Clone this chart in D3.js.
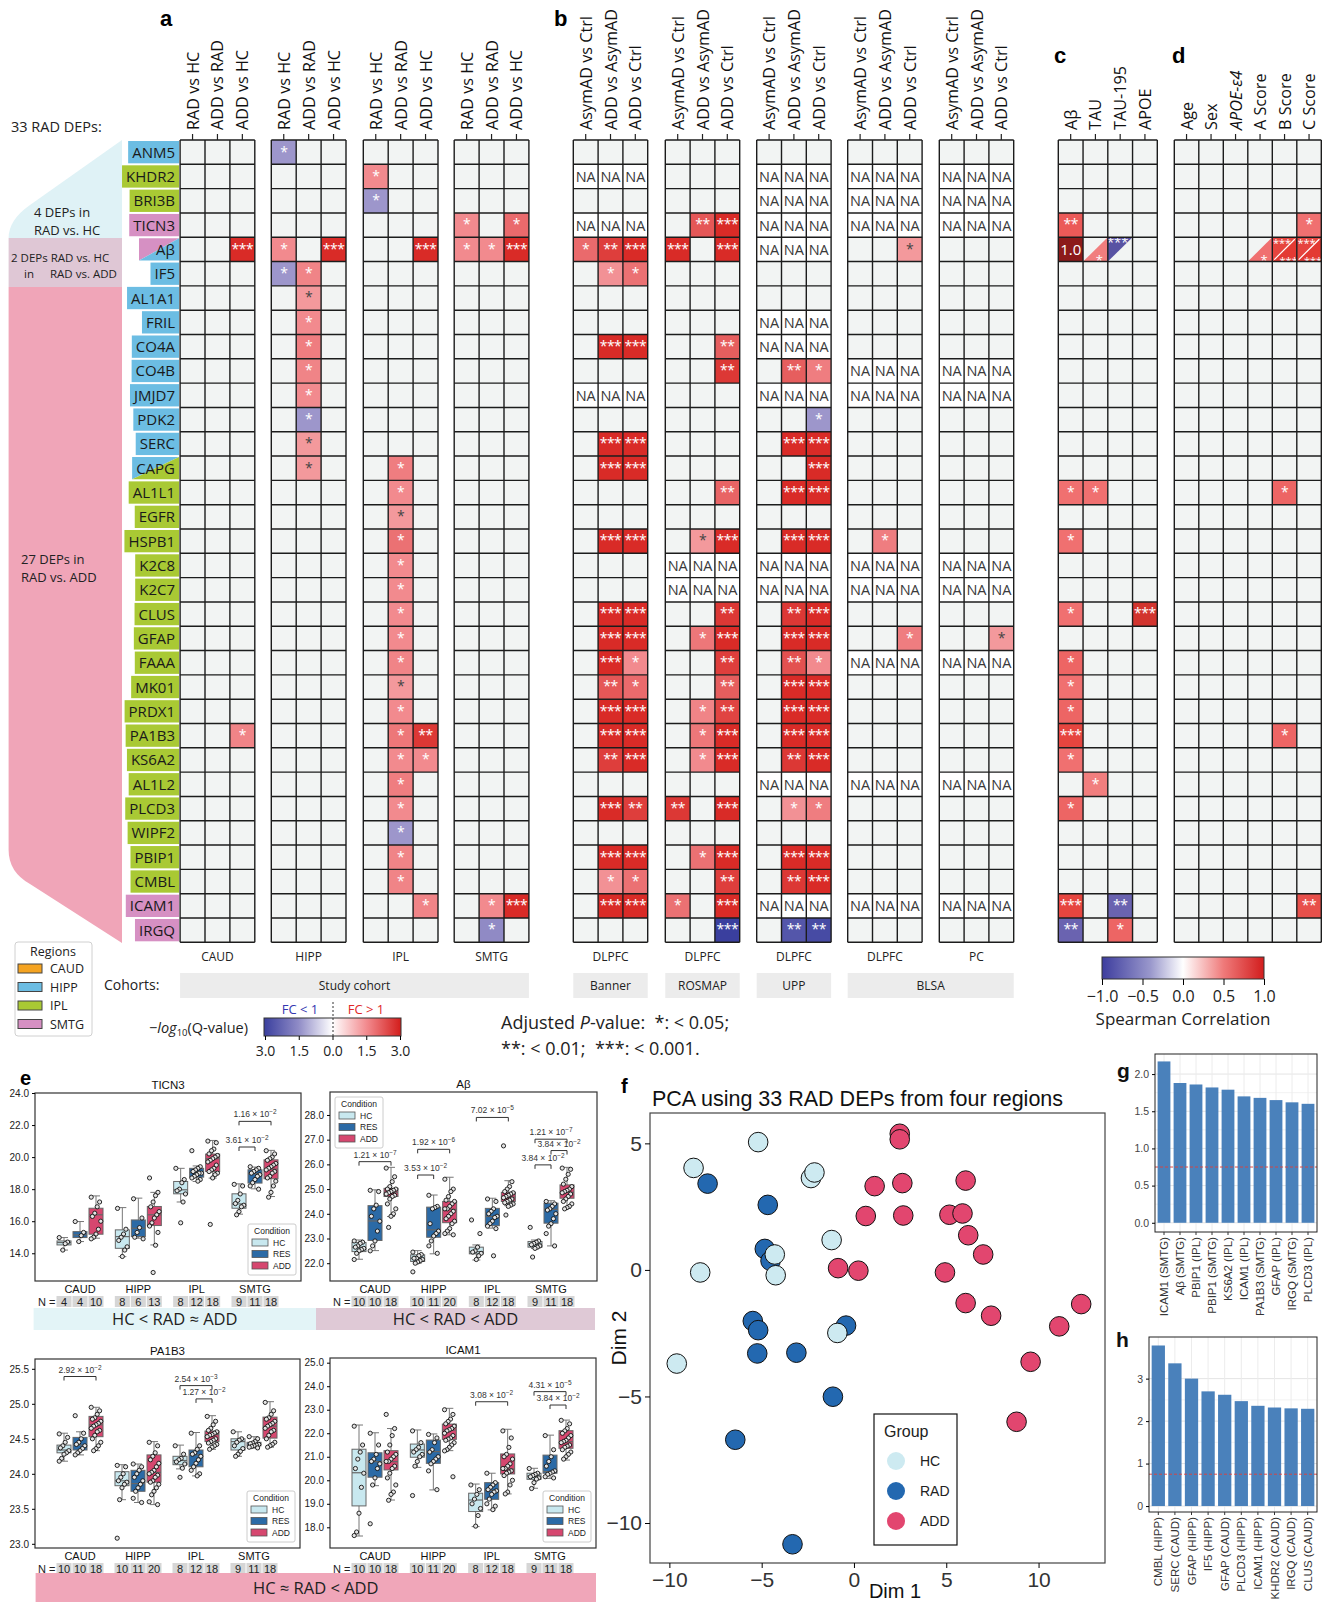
<!DOCTYPE html>
<html><head><meta charset="utf-8">
<script src="https://cdn.jsdelivr.net/npm/d3@7"></script>
<style>
body{margin:0;background:#fff;}
svg{display:block;font-family:"Open Sans",sans-serif;}
.pre{white-space:pre;}
</style></head>
<body><svg id="fig" width="1324" height="1602"></svg>
<script>
// ---- heatmap rows ----
const genes = ["ANM5","KHDR2","BRI3B","TICN3","Aβ","IF5","AL1A1","FRIL","CO4A","CO4B","JMJD7","PDK2","SERC","CAPG",
  "AL1L1","EGFR","HSPB1","K2C8","K2C7","CLUS","GFAP","FAAA","MK01","PRDX1","PA1B3","KS6A2","AL1L2","PLCD3","WIPF2","PBIP1","CMBL","ICAM1","IRGQ"];
const geneRegion = ["HIPP","IPL","IPL","SMTG","SMTG/HIPP",
  "HIPP","HIPP","HIPP","HIPP","HIPP","HIPP","HIPP","HIPP","HIPP/IPL",
  "IPL","IPL","IPL","IPL","IPL","IPL","IPL","IPL","IPL","IPL","IPL","IPL","IPL","IPL","IPL","IPL","IPL",
  "SMTG","SMTG"];

// ---- heatmap columns ----
const studyRegions = ["CAUD","HIPP","IPL","SMTG"];
const studyCols = ["RAD vs HC","ADD vs RAD","ADD vs HC"];
const extRegions = ["DLPFC","DLPFC","DLPFC","DLPFC","PC"];
const extCols = ["AsymAD vs Ctrl","ADD vs AsymAD","ADD vs Ctrl"];
const corrCols = ["Aβ","TAU","TAU-195","APOE"];
const clinCols = ["Age","Sex","APOE-ε4","A Score","B Score","C Score"];
const cohortNames = ["Study cohort","Banner","ROSMAP","UPP","BLSA"];
const cohortSpan = [[0,3],[4,4],[5,5],[6,6],[7,8]];

// signed -log10(Q) + stars ("." none, NA missing)
const caudCells = {"Aβ":". . 3***", PA1B3:". . 1.6*"};
const hippCells = {ANM5:"-1.5* . .", "Aβ":"1.5* . 3***", IF5:"-1.5* 1.6* .", AL1A1:". 1.3* .", FRIL:". 1.5* .", CO4A:". 1.7* .",
  CO4B:". 1.6* .", JMJD7:". 1.5* .", PDK2:". -1.5* .", SERC:". 1.3* .", CAPG:". 1.3* ."};
const iplCells = {KHDR2:"1.5* . .", BRI3B:"-1.5* . .", "Aβ":". . 3***", CAPG:". 1.7* .", AL1L1:". 1.5* .", EGFR:". 1.3* .",
  HSPB1:". 1.9* .", K2C8:". 1.5* .", K2C7:". 1.5* .", CLUS:". 1.5* .", GFAP:". 1.5* .", FAAA:". 1.6* .", MK01:". 1.3* .",
  PRDX1:". 1.5* .", PA1B3:". 1.8* 2.8**", KS6A2:". 1.5* 1.5*", AL1L2:". 1.7* .", PLCD3:". 1.5* .", WIPF2:". -1.5* .",
  PBIP1:". 1.6* .", CMBL:". 1.6* .", ICAM1:". . 1.6*"};
const smtgCells = {TICN3:"1.5* . 2.0*", "Aβ":"1.5* 1.5* 3***", ICAM1:". 1.5* 3***", IRGQ:". -1.7* ."};
const bannerCells = {KHDR2:"NA NA NA", TICN3:"NA NA NA", "Aβ":"2.0* 2.7** 3***", IF5:". 1.4* 1.9*", CO4A:". 3*** 3***",
  JMJD7:"NA NA NA", SERC:". 3*** 3***", CAPG:". 3*** 3***", HSPB1:". 3*** 3***", CLUS:". 3*** 3***", GFAP:". 3*** 3***",
  FAAA:". 3*** 1.5*", MK01:". 2.3** 2.0*", PRDX1:". 3*** 3***", PA1B3:". 3*** 3***", KS6A2:". 2.7** 3***",
  PLCD3:". 3*** 2.7**", PBIP1:". 3*** 3***", CMBL:". 1.4* 1.9*", ICAM1:". 3*** 3***"};
const rosmapCells = {TICN3:". 2.3** 3***", "Aβ":"3*** . 3***", CO4A:". . 2.2**", CO4B:". . 2.8**", AL1L1:". . 2.1**",
  HSPB1:". 1.3* 3***", K2C8:"NA NA NA", K2C7:"NA NA NA", CLUS:". . 2.8**", GFAP:". 1.8* 3***", FAAA:". . 2.7**",
  MK01:". . 2.2**", PRDX1:". 1.6* 2.6**", PA1B3:". 1.8* 3***", KS6A2:". 1.5* 3***", PLCD3:"2.8** . 3***",
  PBIP1:". 1.9* 3***", CMBL:". . 2.7**", ICAM1:"1.9* . 3***", IRGQ:". . -3***"};
const uppCells = {KHDR2:"NA NA NA", BRI3B:"NA NA NA", TICN3:"NA NA NA", "Aβ":"NA NA NA", FRIL:"NA NA NA", CO4A:"NA NA NA",
  CO4B:". 2.2** 1.7*", JMJD7:"NA NA NA", PDK2:". . -1.5*", SERC:". 3*** 3***", CAPG:". . 3***", AL1L1:". 3*** 3***",
  HSPB1:". 3*** 3***", K2C8:"NA NA NA", K2C7:"NA NA NA", CLUS:". 2.8** 3***", GFAP:". 3*** 3***", FAAA:". 2.4** 1.5*",
  MK01:". 3*** 3***", PRDX1:". 3*** 3***", PA1B3:". 3*** 3***", KS6A2:". 2.8** 3***", AL1L2:"NA NA NA",
  PLCD3:". 1.4* 1.7*", PBIP1:". 3*** 3***", CMBL:". 2.8** 3***", ICAM1:"NA NA NA", IRGQ:". -2.6** -2.8**"};
const blsaCells = {KHDR2:"NA NA NA", BRI3B:"NA NA NA", TICN3:"NA NA NA", "Aβ":". . 1.3*", CO4B:"NA NA NA", JMJD7:"NA NA NA",
  HSPB1:". 1.7* .", K2C8:"NA NA NA", K2C7:"NA NA NA", GFAP:". . 1.7*", FAAA:"NA NA NA", AL1L2:"NA NA NA", ICAM1:"NA NA NA"};
const pcCells = {KHDR2:"NA NA NA", BRI3B:"NA NA NA", TICN3:"NA NA NA", CO4B:"NA NA NA", JMJD7:"NA NA NA",
  K2C8:"NA NA NA", K2C7:"NA NA NA", GFAP:". . 1.3*", FAAA:"NA NA NA", AL1L2:"NA NA NA", ICAM1:"NA NA NA"};
// Spearman rho + stars (UL/LR = triangle halves)
const corrCells = {TICN3:"0.6** . . .", "Aβ":"1.0 LR0.45* UL-0.7*** .", AL1L1:"0.5* 0.5* . .", HSPB1:"0.5* . . .",
  CLUS:"0.5* . . 0.8***", FAAA:"0.55* . . .", MK01:"0.5* . . .", PRDX1:"0.55* . . .", PA1B3:"0.7*** . . .",
  KS6A2:"0.5* . . .", AL1L2:". 0.45* . .", PLCD3:"0.55* . . .", ICAM1:"0.7*** . -0.6** .", IRGQ:"-0.6** . 0.55* ."};
const clinCells = {TICN3:". . . . . 0.5*", "Aβ":". . . LR0.5* UL0.7***/LR0.75*** UL0.7***/LR0.75***",
  AL1L1:". . . . 0.55* .", PA1B3:". . . . 0.55* .", ICAM1:". . . . . 0.65**"};

// ---- panel e boxplots: [low whisker, q1, median, q3, high whisker] ----
const boxRegions = ["CAUD","HIPP","IPL","SMTG"];
const conditions = ["HC","RES","ADD"];
const ticn3N = [4,4,10,8,6,13,8,12,18,9,11,18];
const ticn3Stats = [[14.2,14.52,14.67,14.77,14.98],[14.73,14.98,15.15,15.35,15.98],[14.94,15.19,16.4,16.81,17.58],
  [13.79,14.31,15.04,15.46,16.85],[14.94,15.04,15.56,16.08,17.44],[14.52,15.73,16.4,16.92,17.8],
  [17.2,17.71,17.96,18.48,19.3],[18.48,18.75,19.04,19.3,19.45],[18.69,19.1,19.9,20.19,21.04],
  [16.44,16.81,17.08,17.71,18.33],[18.02,18.38,18.96,19.21,19.38],[17.54,18.65,19.25,19.83,20.42]];
const ticn3Pts = [[14.98,14.7,14.6,14.2],[15.98,15.3,15.1,14.73],[17.5,17.2,16.9,16.5,16.3,16.0,15.5,15.2,15.0,14.9],
  [16.8,15.5,15.2,15.0,14.8,14.4,14.2,13.8],[17.4,16.2,15.6,15.3,15.0,14.9],[18.7,17.8,17.6,17.2,16.9,16.6,16.4,16.2,15.9,15.7,15.3,14.5,12.8],
  [19.3,18.6,18.4,18.0,17.9,17.7,17.2,15.9],[20.4,19.4,19.3,19.2,19.1,19.0,19.0,18.9,18.8,18.7,18.6,18.5],
  [21.0,20.9,20.5,20.4,20.2,20.1,20.0,19.9,19.8,19.7,19.5,19.3,19.2,19.1,19.0,18.9,18.7,15.8],
  [18.3,18.2,17.7,17.3,17.1,17.0,16.9,16.6,16.4],[19.4,19.3,19.2,19.1,19.0,18.9,18.8,18.6,18.4,18.2,18.0],
  [20.4,20.2,20.0,19.9,19.8,19.6,19.5,19.4,19.3,19.2,19.1,19.0,18.8,18.7,18.5,18.2,17.8,17.5]];
const ticn3Brackets = [["SMTG","HC","ADD",22.23,"1.16","−2"],["SMTG","HC","RES",20.63,"3.61","−2"]];

const abN = [10,10,18,10,11,20,8,12,18,9,11,18];
const abStats = [[22.16,22.47,22.65,22.84,22.94],[22.51,22.92,23.71,24.33,24.97],[23.89,24.7,24.87,25.03,25.88],
  [22.0,22.07,22.2,22.34,22.51],[22.38,23.05,23.35,24.27,24.76],[23.15,23.64,24.18,24.5,25.48],
  [22.13,22.38,22.47,22.65,22.74],[23.42,23.52,23.89,24.22,24.63],[24.33,24.5,24.67,24.87,25.34],
  [22.6,22.65,22.78,22.88,22.94],[22.7,23.62,24.18,24.43,24.53],[24.22,24.63,24.87,25.17,25.88]];
const abPts = [[22.9,22.85,22.8,22.7,22.65,22.6,22.55,22.5,22.4,22.15],[24.95,24.9,24.35,24.2,23.9,23.7,23.3,22.9,22.7,22.5],
  [25.85,25.5,25.3,25.1,25.0,25.0,24.95,24.9,24.85,24.8,24.75,24.7,24.6,24.4,24.2,24.0,23.9,23.45],
  [22.45,22.35,22.3,22.2,22.2,22.15,22.1,22.05,22.0,21.65],[24.75,24.3,24.25,24.2,23.6,23.3,23.2,23.1,22.9,22.7,22.4],
  [25.4,25.0,24.9,24.7,24.55,24.5,24.4,24.3,24.2,24.2,24.1,24.0,23.9,23.8,23.7,23.6,23.4,23.3,23.2,23.15],
  [23.75,23.2,22.65,22.5,22.45,22.4,22.3,22.15],[24.6,24.5,24.2,24.1,24.0,23.9,23.85,23.7,23.6,23.5,23.4,22.3],
  [26.75,25.3,25.1,25.0,24.9,24.85,24.8,24.75,24.7,24.65,24.6,24.55,24.5,24.45,24.4,24.35,24.3,23.95],
  [23.45,22.9,22.85,22.8,22.75,22.7,22.65,22.6,22.25],[24.5,24.4,24.3,24.2,24.15,24.0,23.8,23.6,23.5,23.2,22.7],
  [25.85,25.8,25.6,25.4,25.2,25.1,25.0,24.95,24.9,24.85,24.8,24.7,24.6,24.5,24.4,24.3,24.25,24.2]];
const abBrackets = [["CAUD","HC","ADD",26.11,"1.21","−7"],["HIPP","HC","RES",25.57,"3.53","−2"],["HIPP","HC","ADD",26.61,"1.92","−6"],
  ["IPL","HC","ADD",27.9,"7.02","−5"],["SMTG","HC","ADD",27.02,"1.21","−7"],["SMTG","RES","ADD",26.56,"3.84","−2"],["SMTG","HC","RES",25.98,"3.84","−2"]];

const pa1b3N = [10,10,18,10,11,20,8,12,18,9,11,18];
const pa1b3Stats = [[24.18,24.3,24.34,24.41,24.58],[24.27,24.34,24.41,24.52,24.6],[24.33,24.53,24.7,24.82,24.95],
  [23.63,23.83,23.9,24.03,24.13],[23.59,23.75,23.86,24.05,24.14],[23.56,23.88,24.02,24.27,24.46],
  [24.07,24.13,24.19,24.25,24.41],[23.97,24.1,24.27,24.34,24.59],[24.35,24.46,24.56,24.61,24.83],
  [24.25,24.34,24.46,24.5,24.6],[24.37,24.4,24.42,24.45,24.53],[24.38,24.51,24.68,24.81,25.03]];
const pa1b3Pts = [[24.57,24.52,24.45,24.4,24.37,24.33,24.3,24.28,24.22,24.18],[24.83,24.58,24.5,24.45,24.42,24.4,24.36,24.33,24.3,24.27],
  [24.95,24.9,24.85,24.8,24.78,24.75,24.72,24.7,24.68,24.65,24.62,24.6,24.55,24.5,24.45,24.4,24.36,24.33],
  [24.12,24.1,24.0,23.95,23.9,23.88,23.85,23.8,23.63,23.08],[24.14,24.1,24.05,24.0,23.95,23.9,23.85,23.8,23.75,23.65,23.59],
  [24.45,24.4,24.3,24.25,24.2,24.15,24.1,24.05,24.02,24.0,23.98,23.95,23.9,23.88,23.85,23.8,23.75,23.7,23.6,23.56],
  [24.4,24.28,24.22,24.2,24.17,24.14,24.08,23.95],[24.58,24.4,24.35,24.3,24.28,24.25,24.2,24.15,24.1,24.05,24.0,23.97],
  [24.82,24.75,24.7,24.65,24.62,24.6,24.58,24.56,24.55,24.53,24.5,24.48,24.46,24.44,24.42,24.4,24.38,24.35],
  [24.6,24.5,24.48,24.45,24.4,24.36,24.32,24.28,24.25],[24.53,24.5,24.46,24.44,24.43,24.42,24.41,24.4,24.39,24.38,24.37],
  [25.02,24.9,24.85,24.8,24.78,24.75,24.72,24.7,24.68,24.65,24.62,24.6,24.55,24.5,24.45,24.42,24.4,24.38]];
const pa1b3Brackets = [["CAUD","HC","ADD",25.39,"2.92","−2"],["IPL","HC","ADD",25.26,"2.54","−3"],["IPL","RES","ADD",25.07,"1.27","−2"]];

const icam1N = [10,10,18,10,11,20,8,12,18,9,11,18];
const icam1Stats = [[17.63,18.91,20.32,21.32,22.35],[19.77,20.13,20.79,21.17,22.02],[19.16,20.44,20.79,21.26,22.2],
  [20.55,20.98,21.29,21.54,22.14],[19.59,20.72,21.22,21.71,21.97],[21.26,21.74,22.14,22.39,23.06],
  [18.03,18.67,19.16,19.45,19.84],[18.74,19.19,19.56,19.9,20.3],[19.42,20.27,20.48,21.12,22.17],
  [19.66,20.04,20.18,20.3,20.51],[20.08,20.3,20.37,21.07,21.92],[20.86,21.36,21.64,22.11,22.56]];
const icam1Pts = [[22.3,21.5,21.2,20.9,20.5,20.3,19.7,18.6,17.8,17.65],[22.0,21.5,21.1,20.9,20.8,20.7,20.5,20.1,19.8,18.15],
  [22.8,22.2,21.9,21.5,21.2,21.1,21.0,20.9,20.8,20.8,20.6,20.5,20.3,20.1,19.8,19.5,19.4,19.15],
  [22.1,21.6,21.4,21.3,21.2,21.1,21.0,20.8,20.6,19.35],[21.95,21.8,21.6,21.3,21.2,21.0,20.9,20.8,20.7,20.4,19.6],
  [23.0,22.8,22.6,22.5,22.4,22.3,22.2,22.15,22.1,22.0,21.9,21.8,21.75,21.7,21.6,21.5,21.4,21.3,21.25,20.15],
  [19.8,19.6,19.4,19.2,19.0,18.8,18.5,18.05],[20.3,19.9,19.8,19.7,19.6,19.55,19.5,19.4,19.2,19.0,18.9,18.75],
  [22.1,21.8,21.4,21.1,21.0,20.9,20.7,20.6,20.5,20.5,20.4,20.35,20.3,20.2,20.0,19.8,19.5,19.42],
  [20.5,20.3,20.25,20.2,20.15,20.1,20.05,19.9,19.65],[21.9,21.3,21.0,20.8,20.6,20.4,20.35,20.3,20.25,20.15,20.1],
  [22.55,22.4,22.2,22.1,22.0,21.9,21.8,21.7,21.65,21.6,21.5,21.45,21.4,21.3,21.2,21.1,21.0,20.9]];
const icam1Brackets = [["IPL","HC","ADD",23.34,"3.08","−2"],["SMTG","HC","ADD",23.77,"4.31","−5"],["SMTG","RES","ADD",23.2,"3.84","−2"]];

// ---- panel f PCA ----
const pcaHC = [[-5.19,5.05],[-8.69,4.03],[-2.33,3.63],[-2.14,3.85],[-1.21,1.18],[-8.33,-0.10],[-4.29,0.61],[-4.24,-0.21],[-0.90,-2.49],[-9.6,-3.70]];
const pcaRAD = [[-7.93,3.41],[-4.67,2.57],[-4.83,0.83],[-4.52,0.36],[-5.48,-2.02],[-5.19,-2.38],[-5.24,-3.30],[-3.12,-3.27],[-0.43,-2.20],[-1.14,-5.01],[-6.43,-6.71],[-3.33,-10.84]];
const pcaADD = [[2.48,5.38],[2.48,5.16],[1.12,3.31],[2.62,3.43],[6.05,3.53],[0.64,2.13],[2.67,2.15],[5.17,2.18],[5.88,2.23],[6.19,1.37],
  [7.0,0.61],[-0.86,0.07],[0.24,-0.03],[4.93,-0.10],[6.05,-1.31],[7.43,-1.81],[12.31,-1.35],[11.12,-2.23],[9.57,-3.63],[8.81,-6.0]];

// ---- panels g, h ----
const gLabels = ["ICAM1 (SMTG)","Aβ (SMTG)","PBIP1 (IPL)","PBIP1 (SMTG)","KS6A2 (IPL)","ICAM1 (IPL)","PA1B3 (SMTG)","GFAP (IPL)","IRGQ (SMTG)","PLCD3 (IPL)"];
const gValues = [2.17,1.88,1.86,1.82,1.79,1.70,1.68,1.65,1.62,1.60];
const hLabels = ["CMBL (HIPP)","SERC (CAUD)","GFAP (HIPP)","IF5 (HIPP)","GFAP (CAUD)","PLCD3 (HIPP)","ICAM1 (HIPP)","KHDR2 (CAUD)","IRGQ (CAUD)","CLUS (CAUD)"];
const hValues = [3.78,3.36,3.0,2.70,2.62,2.47,2.36,2.32,2.30,2.29];
const cutoff = 0.75;

// =================================================================
const svg = d3.select("#fig");
const SANS = "'Open Sans', sans-serif", ARIAL = "'Liberation Sans', Arial, sans-serif";
const regionFill = {CAUD:"#f4a321", HIPP:"#6cbde3", IPL:"#a9c934", SMTG:"#d690c3"};
const condFill = {HC:"#c8e8ef", RES:"#2b6aa6", ADD:"#d6476f"};

const rowY = d3.scaleBand(genes, [140, 942.3]);
const qColor = d3.scaleLinear([-3,-1.5,0,1.5,3], ["#3a3f9e","#9d96cb","#f7f7f7","#f28a8e","#d92b27"]).clamp(true);
const rColor = d3.scaleLinear([-1,-0.6,0,0.5,0.75,1], ["#23237a","#6a63b0","#f7f7f7","#f07070","#e33a33","#8c1a1a"]);

// panel labels
[["a",160,26],["b",554,26],["c",1054,63],["d",1172,63]].forEach(([t,x,yy]) =>
  svg.append("text").attr("x",x).attr("y",yy).attr("font-family",ARIAL).attr("font-weight","bold").attr("font-size",22).text(t));

// left grouping shapes
svg.append("path").attr("d","M122,140 L30,205 Q8.6,220 8.6,238 L122,238 Z").attr("fill","#dff2f6");
svg.append("rect").attr("x",8.6).attr("y",238).attr("width",113.4).attr("height",49).attr("fill","#dfc7d5");
svg.append("path").attr("d","M8.6,287 L122,287 L122,943 L30,884 Q8.6,872 8.6,850 Z").attr("fill","#f0a5b8");
const lt = svg.append("g").attr("font-family",SANS).attr("fill","#222");
lt.append("text").attr("x",11).attr("y",132).attr("font-size",14.5).text("33 RAD DEPs:");
lt.append("text").attr("x",34).attr("y",217).attr("font-size",13).text("4 DEPs in");
lt.append("text").attr("x",34).attr("y",235).attr("font-size",13).text("RAD vs. HC");
lt.append("text").attr("x",11).attr("y",262).attr("font-size",11.5).text("2 DEPs RAD vs. HC");
lt.append("text").attr("x",24).attr("y",278).attr("font-size",11.5).text("in");
lt.append("text").attr("x",50).attr("y",278).attr("font-size",11.5).text("RAD vs. ADD");
lt.append("text").attr("x",21).attr("y",564).attr("font-size",13).text("27 DEPs in");
lt.append("text").attr("x",21).attr("y",582).attr("font-size",13).text("RAD vs. ADD");

// gene labels with region colour boxes
const boxG = svg.append("g"), labG = svg.append("g").attr("font-family",SANS).attr("font-size",15).attr("fill","#1a1a1a");
genes.forEach((gn, i) => {
  const cy = rowY(gn), h = rowY.bandwidth();
  const t = labG.append("text").attr("x",175).attr("y",cy + h/2 + 5.5).attr("text-anchor","end").text(gn);
  const tw = t.node().getComputedTextLength();
  const regs = geneRegion[i].split("/");
  let bx = 175 - tw - 4;
  if (regs.length > 1) bx = Math.min(bx, 139);
  const bw = 179 - bx, by = cy + 1, bh = h - 2;
  if (regs.length === 1) {
    boxG.append("rect").attr("x",bx).attr("y",by).attr("width",bw).attr("height",bh).attr("fill",regionFill[regs[0]]);
  } else {
    boxG.append("path").attr("d",`M${bx},${by}L${bx+bw},${by}L${bx},${by+bh}Z`).attr("fill",regionFill[regs[0]]);
    boxG.append("path").attr("d",`M${bx+bw},${by}L${bx+bw},${by+bh}L${bx},${by+bh}Z`).attr("fill",regionFill[regs[1]]);
  }
});

function heatGroup(x0, cw, cols, cells, color, darkBelow) {
  const x = d3.scaleBand(cols, [x0, x0 + cols.length * cw]);
  const g = svg.append("g").attr("font-family",SANS);
  const w = x.bandwidth(), h = rowY.bandwidth();
  const starTxt = (n) => "*".repeat(n);
  genes.forEach(gn => {
    const toks = (cells[gn] || cols.map(() => ".").join(" ")).split(" ");
    toks.forEach((t, j) => {
      const cx = x(cols[j]), cy = rowY(gn);
      const bg = g.append("rect").attr("x",cx).attr("y",cy).attr("width",w).attr("height",h).attr("fill","#f2f4f3");
      if (t === ".") return;
      if (t === "NA") {
        bg.attr("fill","#fff");
        g.append("text").attr("x",cx + w/2).attr("y",cy + h/2 + 5.5).attr("text-anchor","middle")
          .attr("font-size",14.5).attr("fill","#3a3a3a").text("NA");
        return;
      }
      if (/^(UL|LR)/.test(t)) {
        const parts = t.split("/");
        parts.forEach(p => {
          const pos = p.slice(0,2), v = parseFloat(p.slice(2)), n = (p.match(/\*/g) || []).length;
          const d = pos === "UL" ? `M${cx},${cy}L${cx+w},${cy}L${cx},${cy+h}Z` : `M${cx+w},${cy}L${cx+w},${cy+h}L${cx},${cy+h}Z`;
          g.append("path").attr("d",d).attr("fill",color(v));
          const fs = parts.length > 1 ? 11 : 13;
          g.append("text").attr("x", pos === "UL" ? cx + w*0.4 : cx + w*0.66)
            .attr("y", pos === "UL" ? cy + 10 : cy + h + 3).attr("text-anchor","middle")
            .attr("font-size",fs).attr("fill","#fff").text(starTxt(n));
        });
        if (parts.length > 1) g.append("line").attr("x1",cx+2).attr("y1",cy+h-2).attr("x2",cx+w-2).attr("y2",cy+2).attr("stroke","#fff").attr("stroke-width",1.2);
        return;
      }
      const v = parseFloat(t), n = (t.match(/\*/g) || []).length;
      bg.attr("fill", color(v));
      if (n) {
        g.append("text").attr("x",cx + w/2).attr("y",cy + 16.5).attr("text-anchor","middle").attr("font-size",14)
          .attr("letter-spacing",-0.5).attr("fill", Math.abs(v) < darkBelow ? "#444" : "#fff").text(starTxt(n));
      } else {
        g.append("text").attr("x",cx + w/2).attr("y",cy + h/2 + 5.5).attr("text-anchor","middle").attr("font-size",15)
          .attr("fill","#fff").text(t);
      }
    });
  });
  // grid
  const [ya, yb] = rowY.range();
  const xs = cols.map(c => x(c)).concat([x0 + cols.length * cw]);
  g.selectAll(".vl").data(xs).join("line").attr("x1",d=>d).attr("x2",d=>d).attr("y1",ya).attr("y2",yb)
    .attr("stroke","#1c1c1c").attr("stroke-width",1.4);
  g.selectAll(".hl").data(genes.map(gn => rowY(gn)).concat([yb])).join("line").attr("class","hl")
    .attr("x1",x0).attr("x2",x0 + cols.length * cw).attr("y1",d=>d).attr("y2",d=>d).attr("stroke","#1c1c1c").attr("stroke-width",1.4);
  // headers
  cols.forEach(c => {
    const cx = x(c) + w/2;
    g.append("line").attr("x1",cx).attr("x2",cx).attr("y1",134).attr("y2",140).attr("stroke","#222").attr("stroke-width",1.2);
    g.append("text").attr("transform",`translate(${cx + 6},130) rotate(-90)`).attr("font-size",16.2).attr("fill","#111")
      .attr("font-style", c === "APOE-ε4" ? "italic" : null).text(c);
  });
  return x0 + cols.length * cw / 2;
}

const studyX = [180.1, 271.3, 363.3, 454.2];
const extX = [573.3, 665.3, 756.7, 847.7, 939.3];
const studyCells = [caudCells, hippCells, iplCells, smtgCells];
const extCells = [bannerCells, rosmapCells, uppCells, blsaCells, pcCells];
const groupEdges = [];
studyRegions.forEach((r, i) => {
  const cx = heatGroup(studyX[i], 24.9, studyCols, studyCells[i], qColor, 1.35);
  groupEdges.push([studyX[i], studyX[i] + 3*24.9]);
  svg.append("text").attr("x",cx).attr("y",961).attr("text-anchor","middle").attr("font-size",12).attr("fill","#222").text(r);
});
extRegions.forEach((r, i) => {
  const cx = heatGroup(extX[i], 24.8, extCols, extCells[i], qColor, 1.35);
  groupEdges.push([extX[i], extX[i] + 3*24.8]);
  svg.append("text").attr("x",cx).attr("y",961).attr("text-anchor","middle").attr("font-size",12).attr("fill","#222").text(r);
});
heatGroup(1058.3, 24.75, corrCols, corrCells, rColor, 0);
heatGroup(1174.3, 24.5, clinCols, clinCells, rColor, 0);

// cohorts
svg.append("text").attr("x",104).attr("y",990).attr("font-size",14).attr("fill","#222").text("Cohorts:");
cohortNames.forEach((c, i) => {
  const a = groupEdges[cohortSpan[i][0]][0], b = groupEdges[cohortSpan[i][1]][1];
  svg.append("rect").attr("x",a).attr("y",973).attr("width",b - a).attr("height",25).attr("fill","#ececec");
  svg.append("text").attr("x",(a + b)/2).attr("y",990).attr("text-anchor","middle").attr("font-size",12).attr("fill","#222").text(c);
});

// regions legend
const rl = svg.append("g").attr("font-family",SANS);
rl.append("rect").attr("x",15).attr("y",942).attr("width",77).attr("height",94).attr("rx",3).attr("fill","#fff").attr("stroke","#d0d0d0");
rl.append("text").attr("x",53).attr("y",956).attr("text-anchor","middle").attr("font-size",12.5).attr("fill","#222").text("Regions");
Object.keys(regionFill).forEach((r, i) => {
  rl.append("rect").attr("x",18).attr("y",964 + i*18.5).attr("width",24).attr("height",9).attr("fill",regionFill[r]).attr("stroke","#444");
  rl.append("text").attr("x",50).attr("y",973 + i*18.5).attr("font-size",12.5).attr("fill","#222").text(r);
});

// gradients
const defs = svg.append("defs");
const g1 = defs.append("linearGradient").attr("id","qgrad");
[[0,"#3a3f9e"],[0.25,"#8f8bc6"],[0.5,"#ffffff"],[0.75,"#f28a8e"],[1,"#d31d1b"]].forEach(([o,c]) => g1.append("stop").attr("offset",o).attr("stop-color",c));
const g2 = defs.append("linearGradient").attr("id","rgrad");
[[0,"#3d3d9e"],[0.3,"#9a98cc"],[0.5,"#ffffff"],[0.75,"#ef7a7a"],[1,"#d21d1d"]].forEach(([o,c]) => g2.append("stop").attr("offset",o).attr("stop-color",c));

// -log10(Q) colour bar
const qx = d3.scaleLinear([-3, 3], [265, 400]);
svg.append("rect").attr("x",264).attr("y",1018).attr("width",137).attr("height",18).attr("fill","url(#qgrad)").attr("stroke","#333");
svg.append("line").attr("x1",333).attr("x2",333).attr("y1",1002).attr("y2",1036).attr("stroke","#333").attr("stroke-dasharray","2,2");
svg.append("g").attr("transform","translate(0,1036)")
  .call(d3.axisBottom(qx).tickValues([-3,-1.5,0,1.5,3]).tickFormat(d => d3.format(".1f")(Math.abs(d))).tickSize(4).tickPadding(6))
  .call(a => a.select(".domain").remove())
  .call(a => a.selectAll("text").attr("font-family",SANS).attr("font-size",14).attr("fill","#222"));
svg.append("text").attr("x",300).attr("y",1014).attr("text-anchor","middle").attr("font-size",13).attr("fill","#3437b0").text("FC < 1");
svg.append("text").attr("x",366).attr("y",1014).attr("text-anchor","middle").attr("font-size",13).attr("fill","#e02828").text("FC > 1");
const ql = svg.append("text").attr("x",248).attr("y",1033).attr("text-anchor","end").attr("font-size",14.5).attr("fill","#222");
ql.append("tspan").text("−");
ql.append("tspan").attr("font-style","italic").text("log");
ql.append("tspan").attr("font-size",9.5).attr("dy",3).text("10");
ql.append("tspan").attr("dy",-3).text("(Q-value)");

const ap = svg.append("text").attr("class","pre").attr("x",501).attr("y",1029).attr("font-size",18).attr("fill","#222");
ap.append("tspan").text("Adjusted ");
ap.append("tspan").attr("font-style","italic").text("P");
ap.append("tspan").text("-value:  *: < 0.05;");
svg.append("text").attr("class","pre").attr("x",501).attr("y",1055).attr("font-size",18).attr("fill","#222").text("**: < 0.01;  ***: < 0.001.");

// Spearman colour bar
const rx = d3.scaleLinear([-1, 1], [1102, 1264]);
svg.append("rect").attr("x",1102).attr("y",957).attr("width",162).attr("height",22).attr("fill","url(#rgrad)").attr("stroke","#333");
svg.append("g").attr("transform","translate(0,979)")
  .call(d3.axisBottom(rx).tickValues([-1,-0.5,0,0.5,1]).tickFormat(d => d3.format(".1f")(d).replace("-","−")).tickSize(6).tickPadding(6))
  .call(a => a.select(".domain").remove())
  .call(a => a.selectAll("text").attr("font-family",SANS).attr("font-size",16).attr("fill","#222"));
svg.append("text").attr("x",1183).attr("y",1025).attr("text-anchor","middle").attr("font-size",17).attr("fill","#222").text("Spearman Correlation");

// ---------------- panel e ----------------
svg.append("text").attr("x",20).attr("y",1085).attr("font-family",ARIAL).attr("font-weight","bold").attr("font-size",20).text("e");

const boxPanels = [
  {title:"TICN3", x0:35, x1:301, y0:1093, y1:1281, dom:[12.27,24.0], ticks:[14,16,18,20,22,24], stats:ticn3Stats, pts:ticn3Pts, n:ticn3N, br:ticn3Brackets, leg:"br"},
  {title:"Aβ", x0:330, x1:597, y0:1092, y1:1281, dom:[21.28,28.93], ticks:[22,23,24,25,26,27,28], stats:abStats, pts:abPts, n:abN, br:abBrackets, leg:"tl"},
  {title:"PA1B3", x0:35, x1:300, y0:1359, y1:1548, dom:[22.94,25.64], ticks:[23,23.5,24,24.5,25,25.5], stats:pa1b3Stats, pts:pa1b3Pts, n:pa1b3N, br:pa1b3Brackets, leg:"br"},
  {title:"ICAM1", x0:330, x1:596, y0:1358, y1:1548, dom:[17.12,25.2], ticks:[18,19,20,21,22,23,24,25], stats:icam1Stats, pts:icam1Pts, n:icam1N, br:icam1Brackets, leg:"br"}
];

function boxPanel(P) {
  const g = svg.append("g").attr("font-family",ARIAL);
  const yS = d3.scaleLinear(P.dom, [P.y1, P.y0]);
  const xr = d3.scalePoint(boxRegions, [P.x0 + 45, P.x1 - 46]);
  const xo = d3.scalePoint(conditions, [-16, 16]);
  const bx = (r, c) => xr(r) + xo(c);
  g.append("rect").attr("x",P.x0).attr("y",P.y0).attr("width",P.x1 - P.x0).attr("height",P.y1 - P.y0).attr("fill","#fff").attr("stroke","#333").attr("stroke-width",1.2);
  g.append("g").attr("transform",`translate(${P.x0},0)`)
    .call(d3.axisLeft(yS).tickValues(P.ticks).tickFormat(d3.format(".1f")).tickSize(3))
    .call(a => a.select(".domain").remove())
    .call(a => a.selectAll("text").attr("font-family",ARIAL).attr("font-size",10).attr("fill","#222"));
  g.append("text").attr("x",(P.x0 + P.x1)/2).attr("y",P.y0 - 4).attr("text-anchor","middle").attr("font-size",11.5).attr("fill","#111").text(P.title);
  boxRegions.forEach((r, ri) => {
    g.append("text").attr("x",xr(r)).attr("y",P.y1 + 12).attr("text-anchor","middle").attr("font-size",11).attr("fill","#111").text(r);
    conditions.forEach((c, ci) => {
      const k = ri*3 + ci, [lo, q1, md, q3, hi] = P.stats[k], cx = bx(r, c);
      g.append("line").attr("x1",cx).attr("x2",cx).attr("y1",yS(lo)).attr("y2",yS(hi)).attr("stroke","#777");
      [lo, hi].forEach(v => g.append("line").attr("x1",cx-4).attr("x2",cx+4).attr("y1",yS(v)).attr("y2",yS(v)).attr("stroke","#777"));
      g.append("rect").attr("x",cx - 7).attr("y",yS(q3)).attr("width",14).attr("height",Math.max(1, yS(q1) - yS(q3)))
        .attr("fill",condFill[c]).attr("stroke","#666");
      g.append("line").attr("x1",cx-7).attr("x2",cx+7).attr("y1",yS(md)).attr("y2",yS(md)).attr("stroke","#666").attr("stroke-width",1.2);
      g.selectAll(null).data(P.pts[k]).join("circle")
        .attr("cx",(d, i) => cx + ((i*7) % 9 - 4) * 1.2).attr("cy",d => yS(d)).attr("r",2.1)
        .attr("fill","#e4e4e4").attr("stroke","#111").attr("stroke-width",0.9);
      g.append("rect").attr("x",cx - 7.5).attr("y",P.y1 + 15).attr("width",15).attr("height",11).attr("fill","#d6d6d6");
      g.append("text").attr("x",cx).attr("y",P.y1 + 24.5).attr("text-anchor","middle").attr("font-size",11).attr("fill","#222").text(P.n[k]);
    });
  });
  g.append("text").attr("x",P.x0 + 3).attr("y",P.y1 + 24.5).attr("font-size",11).attr("fill","#222").text("N =");
  P.br.forEach(([r, c1, c2, v, m, e]) => {
    const a = bx(r, c1), b = bx(r, c2), yy = yS(v);
    g.append("path").attr("d",`M${a},${yy+4}V${yy}H${b}V${yy+4}`).attr("fill","none").attr("stroke","#333").attr("stroke-width",1);
    const t = g.append("text").attr("x",(a + b)/2).attr("y",yy - 4).attr("text-anchor","middle").attr("font-size",8.5).attr("fill","#333");
    t.append("tspan").text(`${m} × 10`);
    t.append("tspan").attr("dy",-3).attr("font-size",6.5).text(e);
  });
  // condition legend
  const lx = P.leg === "tl" ? P.x0 + 5 : P.x1 - 53, ly = P.leg === "tl" ? P.y0 + 5 : P.y1 - 57;
  const lg = g.append("g").attr("transform",`translate(${lx},${ly})`);
  lg.append("rect").attr("width",48).attr("height",51).attr("rx",2).attr("fill","#fff").attr("stroke","#ccc");
  lg.append("text").attr("x",24).attr("y",10).attr("text-anchor","middle").attr("font-size",8.5).attr("fill","#222").text("Condition");
  conditions.forEach((c, i) => {
    lg.append("rect").attr("x",4).attr("y",15 + i*11.5).attr("width",16).attr("height",7).attr("fill",condFill[c]).attr("stroke","#555").attr("stroke-width",0.8);
    lg.append("text").attr("x",25).attr("y",21.5 + i*11.5).attr("font-size",8.5).attr("fill","#222").text(c);
  });
}
boxPanels.forEach(boxPanel);

// category bands
const bands = [[33.6,316,1308,22,"#e3f4f7","HC < RAD ≈ ADD"],[316,595,1308,22,"#dfc9d6","HC < RAD < ADD"],[35.6,596,1573,29,"#f0a6b9","HC ≈ RAD < ADD"]];
bands.forEach(([a, b, yy, h, f, t]) => {
  svg.append("rect").attr("x",a).attr("y",yy).attr("width",b - a).attr("height",h).attr("fill",f);
  svg.append("text").attr("x",(a + b)/2).attr("y",yy + h/2 + 6).attr("text-anchor","middle").attr("font-size",16.5).attr("fill","#222").text(t);
});

// ---------------- panel f ----------------
const pg = svg.append("g").attr("font-family",ARIAL);
const px = d3.scaleLinear([-11.05, 13.6], [650, 1105]);
const py = d3.scaleLinear([-11.58, 6.2], [1563, 1113]);
pg.append("text").attr("x",621).attr("y",1093).attr("font-weight","bold").attr("font-size",20).text("f");
pg.append("text").attr("x",652).attr("y",1106).attr("font-size",21.5).attr("fill","#111").text("PCA using 33 RAD DEPs from four regions");
pg.append("rect").attr("x",650).attr("y",1113).attr("width",455).attr("height",450).attr("fill","#fff").attr("stroke","#444").attr("stroke-width",1.2);
const minus = d => String(d).replace("-","−");
pg.append("g").attr("transform","translate(0,1563)").call(d3.axisBottom(px).tickValues([-10,-5,0,5,10]).tickFormat(minus).tickSize(5).tickPadding(4))
  .call(a => a.select(".domain").remove()).call(a => a.selectAll("text").attr("font-family",ARIAL).attr("font-size",21).attr("fill","#333"));
pg.append("g").attr("transform","translate(650,0)").call(d3.axisLeft(py).tickValues([-10,-5,0,5]).tickFormat(minus).tickSize(5))
  .call(a => a.select(".domain").remove()).call(a => a.selectAll("text").attr("font-family",ARIAL).attr("font-size",21).attr("fill","#333"));
pg.append("text").attr("x",895).attr("y",1598).attr("text-anchor","middle").attr("font-size",20).attr("fill","#111").text("Dim 1");
pg.append("text").attr("transform","translate(626,1338) rotate(-90)").attr("text-anchor","middle").attr("font-size",21).attr("fill","#111").text("Dim 2");
const pcaFill = {HC:"#cdeaf1", RAD:"#2368b0", ADD:"#e2466f"};
[["RAD",pcaRAD],["HC",pcaHC],["ADD",pcaADD]].forEach(([k, pts]) =>
  pg.selectAll(null).data(pts).join("circle").attr("cx",d => px(d[0])).attr("cy",d => py(d[1])).attr("r",9.8)
    .attr("fill",pcaFill[k]).attr("stroke","#111").attr("stroke-width",1));
const pl = pg.append("g").attr("transform","translate(874,1414)");
pl.append("rect").attr("width",83).attr("height",131).attr("fill","#fff").attr("stroke","#111").attr("stroke-width",1.2);
pl.append("text").attr("x",10).attr("y",23).attr("font-size",16).attr("fill","#222").text("Group");
["HC","RAD","ADD"].forEach((k, i) => {
  pl.append("circle").attr("cx",22).attr("cy",47 + i*30).attr("r",9).attr("fill",pcaFill[k]);
  pl.append("text").attr("x",46).attr("y",52 + i*30).attr("font-size",14).attr("fill","#222").text(k);
});

// ---------------- panels g, h ----------------
function barPanel(labels, values, box, dom, ticks, fmt, tag, tagPos) {
  const g = svg.append("g").attr("font-family",ARIAL);
  const [x0, x1, y0, y1] = box;
  const yS = d3.scaleLinear(dom, [y1, y0]);
  const xS = d3.scaleBand(labels, [x0 + 1, x1 - 1]).paddingInner(0.2).paddingOuter(0.1);
  g.append("rect").attr("x",x0).attr("y",y0).attr("width",x1 - x0).attr("height",y1 - y0).attr("fill","#fff");
  const minor = d3.range(ticks.length - 1).map(i => (ticks[i] + ticks[i+1]) / 2);
  minor.forEach(v => g.append("line").attr("x1",x0).attr("x2",x1).attr("y1",yS(v)).attr("y2",yS(v)).attr("stroke","#f2f2f2"));
  ticks.forEach(v => g.append("line").attr("x1",x0).attr("x2",x1).attr("y1",yS(v)).attr("y2",yS(v)).attr("stroke","#e4e4e4"));
  labels.forEach(l => g.append("line").attr("x1",xS(l) + xS.bandwidth()/2).attr("x2",xS(l) + xS.bandwidth()/2).attr("y1",y0).attr("y2",y1).attr("stroke","#ececec"));
  g.selectAll(null).data(labels).join("rect").attr("x",d => xS(d)).attr("width",xS.bandwidth())
    .attr("y",(d, i) => yS(values[i])).attr("height",(d, i) => yS(0) - yS(values[i])).attr("fill","#4a81bb");
  g.append("line").attr("x1",x0).attr("x2",x1).attr("y1",yS(cutoff)).attr("y2",yS(cutoff)).attr("stroke","#e0403a").attr("stroke-dasharray","3,2").attr("stroke-width",0.9);
  g.append("rect").attr("x",x0).attr("y",y0).attr("width",x1 - x0).attr("height",y1 - y0).attr("fill","none").attr("stroke","#222");
  g.append("g").attr("transform",`translate(${x0},0)`).call(d3.axisLeft(yS).tickValues(ticks).tickFormat(d3.format(fmt)).tickSize(3))
    .call(a => a.select(".domain").remove()).call(a => a.selectAll("text").attr("font-family",ARIAL).attr("font-size",10.5).attr("fill","#444"));
  labels.forEach(l => {
    const cx = xS(l) + xS.bandwidth()/2;
    g.append("line").attr("x1",cx).attr("x2",cx).attr("y1",y1).attr("y2",y1 + 3).attr("stroke","#333");
    g.append("text").attr("transform",`translate(${cx + 4},${y1 + 5}) rotate(-90)`).attr("text-anchor","end")
      .attr("font-size",11.5).attr("fill","#333").text(l);
  });
  g.append("text").attr("x",tagPos[0]).attr("y",tagPos[1]).attr("font-weight","bold").attr("font-size",21).attr("fill","#111").text(tag);
}
barPanel(gLabels, gValues, [1155, 1317, 1054, 1232], [-0.124, 2.27], [0, 0.5, 1, 1.5, 2], ".1f", "g", [1117, 1078]);
barPanel(hLabels, hValues, [1149, 1317, 1337, 1512], [-0.14, 3.98], [0, 1, 2, 3], "d", "h", [1116, 1347]);
</script></body></html>
